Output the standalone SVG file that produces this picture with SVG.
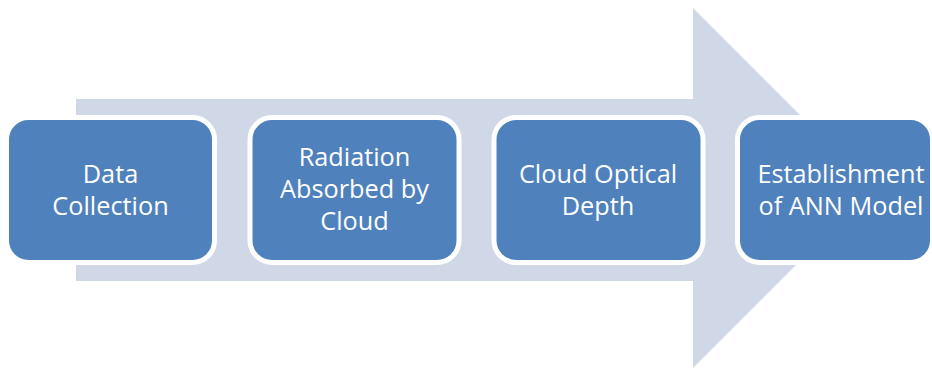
<svg xmlns="http://www.w3.org/2000/svg" width="932" height="368" viewBox="0 0 932 368">
  <style>
    .box { fill: #4F81BD; stroke: #FFFFFF; stroke-width: 5; }
    .lbl { font-family: "Open Sans", "Liberation Sans", sans-serif; font-size: 25.3px; fill: #FFFFFF; text-anchor: middle; }
  </style>
  <rect width="932" height="368" fill="#FFFFFF"/>
  <g id="connectors">
    <polygon points="76,99 693,99 693,8 873,188 693,368 693,281 76,281" fill="#D0D8E8"/>
  </g>
  <g id="node1">
    <rect class="box" x="6.5" y="117.5" width="208" height="145" rx="22"/>
    <text class="lbl" x="110.5" y="183">Data</text>
    <text class="lbl" x="110.5" y="215">Collection</text>
  </g>
  <g id="node2">
    <rect class="box" x="250" y="117.5" width="209" height="145" rx="22"/>
    <text class="lbl" x="354.5" y="166">Radiation</text>
    <text class="lbl" x="354.5" y="198">Absorbed by</text>
    <text class="lbl" x="354.5" y="230">Cloud</text>
  </g>
  <g id="node3">
    <rect class="box" x="494" y="117.5" width="209" height="145" rx="22"/>
    <text class="lbl" x="598" y="183">Cloud Optical</text>
    <text class="lbl" x="598" y="215">Depth</text>
  </g>
  <g id="node4">
    <rect class="box" x="737.5" y="117.5" width="195" height="145" rx="22"/>
    <text class="lbl" x="841" y="183">Establishment</text>
    <text class="lbl" x="841" y="215">of ANN Model</text>
  </g>
</svg>
